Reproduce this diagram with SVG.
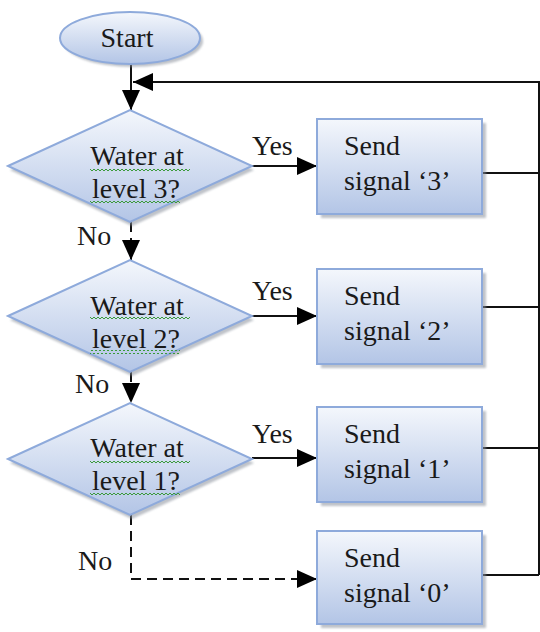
<svg xmlns="http://www.w3.org/2000/svg" width="540" height="632" viewBox="0 0 540 632">
<style>
  text { font-family: "Liberation Serif", "Times New Roman", serif; font-size: 28px; fill: #1a1a1a; }
  .shape { fill: url(#grad); stroke: #8eaadb; stroke-width: 2; }
  .shadow { fill: #8a919c; opacity: 0.55; filter: url(#blur); }
  .conn { fill: none; stroke: #111; stroke-width: 2; }
  .dash { stroke-dasharray: 10 6; }
  .wave { fill: url(#wave); }
</style>
<defs>
  <linearGradient id="grad" x1="0" y1="0" x2="0" y2="1">
    <stop offset="0" stop-color="#f4f7fc"/>
    <stop offset="1" stop-color="#b3c5e6"/>
  </linearGradient>
  <filter id="blur" x="-10%" y="-10%" width="120%" height="120%">
    <feGaussianBlur stdDeviation="1.2"/>
  </filter>
  <pattern id="wave" patternUnits="userSpaceOnUse" width="4" height="4">
    <polyline points="0,3 2,1 4,3" fill="none" stroke="#3a9a3a" stroke-width="1"/>
  </pattern>
  <marker id="arrow" markerUnits="userSpaceOnUse" markerWidth="20" markerHeight="18" viewBox="0 0 20 18" refX="20" refY="9" orient="auto">
    <path d="M0,0 L20,9 L0,18 z" fill="#000"/>
  </marker>
</defs>

<g id="connectors">
  <line class="conn" x1="131" y1="64" x2="131" y2="110" marker-end="url(#arrow)"/>
  <line class="conn" x1="252" y1="166" x2="317" y2="166" marker-end="url(#arrow)"/>
  <line class="conn" x1="252" y1="316" x2="317" y2="316" marker-end="url(#arrow)"/>
  <line class="conn" x1="252" y1="458" x2="317" y2="458" marker-end="url(#arrow)"/>
  <line class="conn dash" x1="131" y1="222" x2="131" y2="260" marker-end="url(#arrow)"/>
  <line class="conn dash" x1="131" y1="372" x2="131" y2="403" marker-end="url(#arrow)"/>
  <path class="conn dash" d="M131,515 V579 H317" marker-end="url(#arrow)"/>
  <line class="conn" x1="482" y1="173" x2="539" y2="173"/>
  <line class="conn" x1="482" y1="307" x2="539" y2="307"/>
  <line class="conn" x1="482" y1="448" x2="539" y2="448"/>
  <line class="conn" x1="482" y1="575" x2="539" y2="575"/>
  <path class="conn" d="M539,575 V82 H133" marker-end="url(#arrow)"/>
</g>

<g id="start">
  <ellipse class="shadow" cx="133" cy="41" rx="70" ry="26"/>
  <ellipse class="shape" cx="130" cy="38" rx="70" ry="26"/>
  <text x="127" y="47" text-anchor="middle">Start</text>
</g>

<g id="decision3">
  <polygon class="shadow" points="10,170 132,114 254,170 132,226"/>
  <polygon class="shape" points="8,166 130,110 252,166 130,222"/>
  <text x="137" y="165" text-anchor="middle">Water at</text>
  <text x="136" y="198" text-anchor="middle">level 3?</text>
  <rect class="wave" x="90" y="167" width="100" height="4"/>
  <rect class="wave" x="90" y="200" width="90" height="4"/>
</g>

<g id="decision2">
  <polygon class="shadow" points="10,320 132,264 254,320 132,376"/>
  <polygon class="shape" points="8,316 130,260 252,316 130,372"/>
  <text x="137" y="315" text-anchor="middle">Water at</text>
  <text x="136" y="348" text-anchor="middle">level 2?</text>
  <rect class="wave" x="90" y="317" width="100" height="4"/>
  <rect class="wave" x="90" y="350" width="90" height="4"/>
</g>

<g id="decision1">
  <polygon class="shadow" points="10,463 132,407 254,463 132,519"/>
  <polygon class="shape" points="8,459 130,403 252,459 130,515"/>
  <text x="137" y="457" text-anchor="middle">Water at</text>
  <text x="136" y="490" text-anchor="middle">level 1?</text>
  <rect class="wave" x="90" y="459" width="100" height="4"/>
  <rect class="wave" x="90" y="492" width="90" height="4"/>
</g>

<g id="send3">
  <rect class="shadow" x="321" y="123" width="165" height="95"/>
  <rect class="shape" x="317" y="119" width="165" height="95"/>
  <text x="344" y="155">Send</text>
  <text x="344" y="190">signal ‘3’</text>
</g>

<g id="send2">
  <rect class="shadow" x="321" y="273" width="165" height="95"/>
  <rect class="shape" x="317" y="269" width="165" height="95"/>
  <text x="344" y="305">Send</text>
  <text x="344" y="340">signal ‘2’</text>
</g>

<g id="send1">
  <rect class="shadow" x="321" y="411" width="165" height="95"/>
  <rect class="shape" x="317" y="407" width="165" height="95"/>
  <text x="344" y="443">Send</text>
  <text x="344" y="478">signal ‘1’</text>
</g>

<g id="send0">
  <rect class="shadow" x="321" y="535" width="165" height="93"/>
  <rect class="shape" x="317" y="531" width="165" height="93"/>
  <text x="344" y="567">Send</text>
  <text x="344" y="602">signal ‘0’</text>
</g>

<g id="labels">
  <text x="252" y="155">Yes</text>
  <text x="252" y="300">Yes</text>
  <text x="252" y="443">Yes</text>
  <text x="77" y="245">No</text>
  <text x="75" y="393">No</text>
  <text x="78" y="570">No</text>
</g>
</svg>
